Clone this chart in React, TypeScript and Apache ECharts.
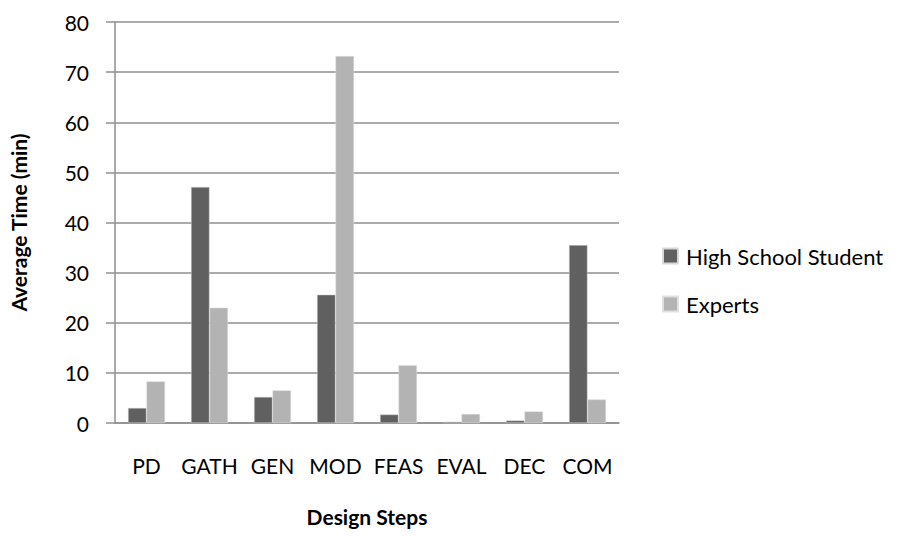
import React, { useEffect, useRef } from "react";
import * as echarts from "echarts";

const categories = ["PD", "GATH", "GEN", "MOD", "FEAS", "EVAL", "DEC", "COM"];
const highSchool = [3.0, 47.1, 5.2, 25.6, 1.7, 0.25, 0.5, 35.5];
const experts = [8.3, 23.0, 6.5, 73.2, 11.5, 1.8, 2.3, 4.7];
const seriesNames = ["High School Student", "Experts"];

const FONT = "Lato, 'Open Sans', sans-serif";
const AXIS_GRAY = "#8f8f8f";

export default function App() {
  const ref = useRef<HTMLDivElement>(null);
  useEffect(() => {
    if (!ref.current) return;
    const chart = echarts.init(ref.current, null, { renderer: "svg" });
    chart.setOption({
      animation: false,
      backgroundColor: "#ffffff",
      grid: { left: 107, right: 286, top: 22, bottom: 113, containLabel: false },
      legend: {
        orient: "vertical",
        left: 657,
        top: 240,
        itemWidth: 15,
        itemHeight: 15,
        itemGap: 26,
        icon: "rect",
        textStyle: { fontFamily: FONT, fontSize: 22, color: "#000", padding: [0, 0, 0, 3] },
        data: seriesNames,
      },
      xAxis: {
        type: "category",
        data: categories,
        name: "Design Steps",
        nameLocation: "middle",
        nameGap: 83,
        nameTextStyle: { fontFamily: FONT, fontSize: 21, fontWeight: "bold", color: "#000" },
        axisLine: { lineStyle: { color: AXIS_GRAY, width: 1.5 } },
        axisTick: { show: false },
        axisLabel: { interval: 0, fontFamily: FONT, fontSize: 21, color: "#000", margin: 32, hideOverlap: false },
      },
      yAxis: {
        type: "value",
        min: 0,
        max: 80,
        interval: 10,
        name: "Average Time (min)",
        nameLocation: "middle",
        nameGap: 86,
        nameTextStyle: { fontFamily: FONT, fontSize: 21, fontWeight: "bold", color: "#000" },
        axisLine: { show: true, lineStyle: { color: AXIS_GRAY, width: 1.5 } },
        axisTick: { show: true, length: 9, lineStyle: { color: AXIS_GRAY, width: 1.5 } },
        axisLabel: { fontFamily: FONT, fontSize: 21, color: "#000", margin: 26 },
        splitLine: { lineStyle: { color: AXIS_GRAY, width: 1.5 } },
      },
      series: [
        {
          name: seriesNames[0],
          type: "bar",
          data: highSchool,
          barWidth: 18.5,
          barGap: "0%",
          itemStyle: { color: "#606060", borderColor: "#d8d8d8", borderWidth: 0.5 },
        },
        {
          name: seriesNames[1],
          type: "bar",
          data: experts,
          barWidth: 18.5,
          barGap: "0%",
          itemStyle: { color: "#b3b3b3", borderColor: "#e0e0e0", borderWidth: 0.5 },
        },
      ],
    });
    return () => chart.dispose();
  }, []);
  return <div ref={ref} style={{ width: 905, height: 536, position: "absolute", left: 0, top: 0 }} />;
}
